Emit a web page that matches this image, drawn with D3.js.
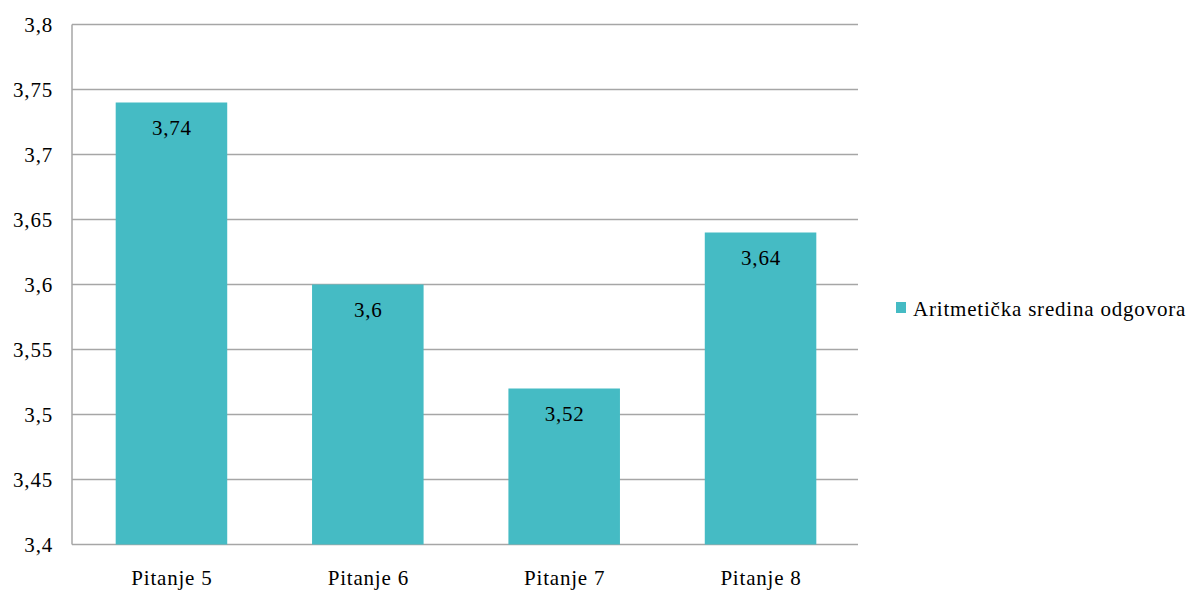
<!DOCTYPE html>
<html><head><meta charset="utf-8">
<script src="https://cdn.jsdelivr.net/npm/d3@7"></script>
<style>body{margin:0;background:#fff}svg{display:block}</style>
</head><body>
<svg id="c" width="1194" height="590"></svg>
<script>
const categories = ["Pitanje 5","Pitanje 6","Pitanje 7","Pitanje 8"];
const values = [3.74, 3.6, 3.52, 3.64];
const yTicks = [3.4, 3.45, 3.5, 3.55, 3.6, 3.65, 3.7, 3.75, 3.8];
const seriesName = "Aritmetička sredina odgovora";

const fmt = v => String(v).replace(".", ",");
const svg = d3.select("#c");
const FS = 21, LS = "0.8px";
const m = {l:72, r:858, t:24.5, b:544.5};
const x = d3.scaleBand().domain(categories).range([m.l, m.r + 2]).paddingInner(0.432).paddingOuter(0.2225);
const y = d3.scaleLinear().domain([3.4, 3.8]).range([m.b, m.t]);
const color = "#45BBC4";

const grid = svg.append("g");
grid.selectAll("line").data(yTicks).join("line")
  .attr("x1", m.l).attr("x2", m.r)
  .attr("y1", d => y(d)).attr("y2", d => y(d))
  .attr("stroke", "#a6a6a6").attr("stroke-width", 1.5);
grid.append("line").attr("x1", m.l).attr("x2", m.l).attr("y1", m.t).attr("y2", m.b)
  .attr("stroke", "#a6a6a6").attr("stroke-width", 1.5);

function txt(sel){
  return sel.attr("font-size", FS)
    .style("font-family", '"Liberation Serif"')
    .style("letter-spacing", LS).style("fill", "#000");
}

txt(svg.append("g").selectAll("text").data(yTicks).join("text")
  .attr("x", 53).attr("y", d => y(d) + 7)
  .attr("text-anchor", "end"))
  .text(d => fmt(d));

svg.append("g").selectAll("rect").data(values).join("rect")
  .attr("x", (d,i) => x(categories[i])).attr("width", x.bandwidth())
  .attr("y", d => y(d)).attr("height", d => y(3.4) - y(d))
  .attr("fill", color);

txt(svg.append("g").selectAll("text").data(values).join("text")
  .attr("x", (d,i) => x(categories[i]) + x.bandwidth()/2 + 0.5)
  .attr("y", d => y(d) + 32)
  .attr("text-anchor", "middle"))
  .text(d => fmt(d));

txt(svg.append("g").selectAll("text").data(categories).join("text")
  .attr("x", d => x(d) + x.bandwidth()/2 + 0.5).attr("y", 585)
  .attr("text-anchor", "middle"))
  .text(d => d);

const lg = svg.append("g");
lg.append("rect").attr("x", 896).attr("y", 302).attr("width", 10).attr("height", 11).attr("fill", color);
txt(lg.append("text").attr("x", 913).attr("y", 316)).text(seriesName);
</script>
</body></html>
